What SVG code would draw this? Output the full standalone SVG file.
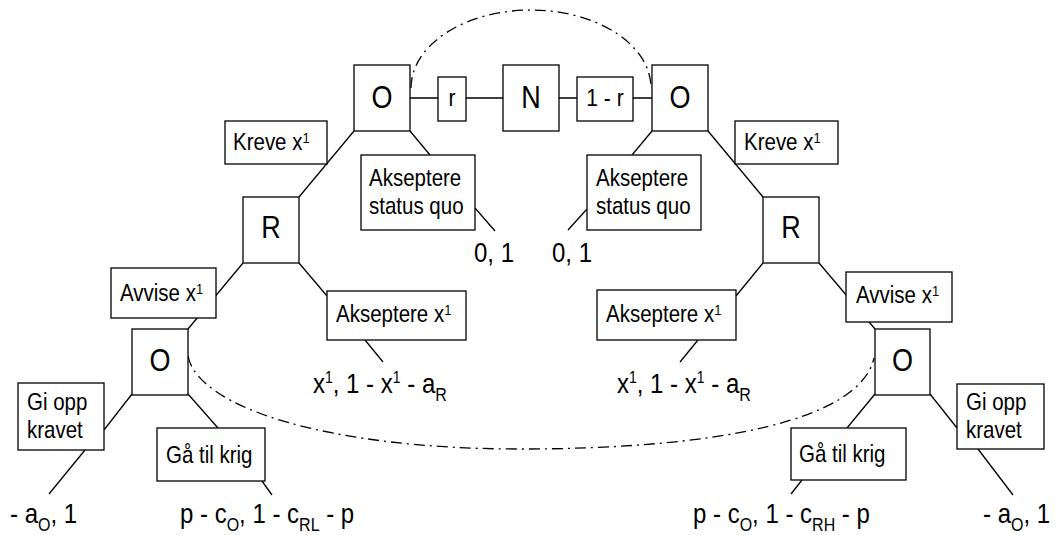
<svg xmlns="http://www.w3.org/2000/svg" width="1056" height="535" viewBox="0 0 1056 535">
<style>
.box{fill:#fff;stroke:#000;stroke-width:1.3}
.ln{stroke:#000;stroke-width:1.3;fill:none}
.dd{stroke:#000;stroke-width:1.3;fill:none;stroke-dasharray:11 5 2 5}
text{font-family:"Liberation Sans",Arial,sans-serif;fill:#000}
.lb{font-size:20.5px}
.big{font-size:27px;text-anchor:middle}
.sm{font-size:21px;text-anchor:middle}
.pf{font-size:24px}
.sup{font-size:13px}
.psup{font-size:14px}
.sub{font-size:16px}
</style>
<rect width="1056" height="535" fill="#fff"/>
<g id="connectors">
<path class="ln" d="M410 98H652"/>
<path class="ln" d="M354 131L299 197M410 131L430 155M652 131L632 155M708 131L763 197"/>
<path class="ln" d="M475 208L495 231M587 209L568 230"/>
<path class="ln" d="M243 263L188 329M299 263L327 296M763 263L736 296M819 263L875 329"/>
<path class="ln" d="M365 340L383 362M698 340L680 362"/>
<path class="ln" d="M132 394L104 430M188 394L218 428M875 394L847 428M930 394L957 428"/>
<path class="ln" d="M85 450L49 494M262 481L272 495M802 480L791 494M978 449L1013 495"/>
<path class="dd" d="M411 88A120 78 0 0 1 651 88"/>
<path class="dd" d="M188 356C198 408 330 449 520 449C720 449 860 420 874 358"/>
</g>
<g id="O1"><rect class="box" x="354" y="65" width="56" height="66"/><text class="big" transform="matrix(1 0 0 1.18 382 107.5)">O</text></g>
<g id="r"><rect class="box" x="438" y="77" width="28" height="44"/><text class="sm" transform="matrix(1 0 0 1.18 452 106)">r</text></g>
<g id="N"><rect class="box" x="503" y="65" width="56" height="66"/><text class="big" transform="matrix(1 0 0 1.18 531 107.5)">N</text></g>
<g id="one-minus-r"><rect class="box" x="577" y="77" width="56" height="44"/><text class="sm" transform="matrix(1 0 0 1.18 605 106)">1 - r</text></g>
<g id="O2"><rect class="box" x="652" y="65" width="56" height="66"/><text class="big" transform="matrix(1 0 0 1.18 680 107.5)">O</text></g>
<g id="kreve-left"><rect class="box" x="225" y="121" width="102" height="43"/><text class="lb" transform="matrix(1 0 0 1.18 233 150)">Kreve x<tspan class="sup" dy="-6">1</tspan></text></g>
<g id="kreve-right"><rect class="box" x="735" y="121" width="103" height="43"/><text class="lb" transform="matrix(1 0 0 1.18 744 150)">Kreve x<tspan class="sup" dy="-6">1</tspan></text></g>
<g id="sq-left"><rect class="box" x="361" y="155" width="114" height="75"/><text class="lb" transform="matrix(1 0 0 1.18 369 186)">Akseptere</text><text class="lb" transform="matrix(1 0 0 1.18 369 214)">status quo</text></g>
<g id="sq-right"><rect class="box" x="587" y="155" width="114" height="75"/><text class="lb" transform="matrix(1 0 0 1.18 596 186)">Akseptere</text><text class="lb" transform="matrix(1 0 0 1.18 596 214)">status quo</text></g>
<g id="R1"><rect class="box" x="243" y="197" width="56" height="66"/><text class="big" transform="matrix(1 0 0 1.18 271 238)">R</text></g>
<g id="R2"><rect class="box" x="763" y="197" width="56" height="66"/><text class="big" transform="matrix(1 0 0 1.18 791 238)">R</text></g>
<g id="avvise-left"><rect class="box" x="111" y="268" width="105" height="50"/><text class="lb" transform="matrix(1 0 0 1.18 120 301)">Avvise x<tspan class="sup" dy="-6">1</tspan></text></g>
<g id="akseptere-left"><rect class="box" x="327" y="291" width="139" height="49"/><text class="lb" transform="matrix(1 0 0 1.18 336 322)">Akseptere x<tspan class="sup" dy="-6">1</tspan></text></g>
<g id="akseptere-right"><rect class="box" x="597" y="290" width="139" height="50"/><text class="lb" transform="matrix(1 0 0 1.18 606 322)">Akseptere x<tspan class="sup" dy="-6">1</tspan></text></g>
<g id="avvise-right"><rect class="box" x="846" y="272" width="106" height="50"/><text class="lb" transform="matrix(1 0 0 1.18 856 303)">Avvise x<tspan class="sup" dy="-6">1</tspan></text></g>
<g id="O3"><rect class="box" x="132" y="329" width="56" height="66"/><text class="big" transform="matrix(1 0 0 1.18 160 371)">O</text></g>
<g id="O4"><rect class="box" x="875" y="329" width="55" height="66"/><text class="big" transform="matrix(1 0 0 1.18 902.5 371)">O</text></g>
<g id="giopp-left"><rect class="box" x="18" y="383" width="86" height="67"/><text class="lb" transform="matrix(1 0 0 1.18 27 410)">Gi opp</text><text class="lb" transform="matrix(1 0 0 1.18 27 438)">kravet</text></g>
<g id="krig-left"><rect class="box" x="157" y="428" width="108" height="53"/><text class="lb" transform="matrix(1 0 0 1.18 166 463)">Gå til krig</text></g>
<g id="krig-right"><rect class="box" x="791" y="428" width="115" height="52"/><text class="lb" transform="matrix(1 0 0 1.18 799 462)">Gå til krig</text></g>
<g id="giopp-right"><rect class="box" x="957" y="384" width="87" height="65"/><text class="lb" transform="matrix(1 0 0 1.18 966 410)">Gi opp</text><text class="lb" transform="matrix(1 0 0 1.18 966 438)">kravet</text></g>
<g id="payoffs">
<text class="pf" transform="matrix(1 0 0 1.18 474 262)">0, 1</text>
<text class="pf" transform="matrix(1 0 0 1.18 552 262)">0, 1</text>
<text class="pf" transform="matrix(1 0 0 1.18 313 393)">x<tspan class="psup" dy="-8.5">1</tspan><tspan dy="8.5">, 1 - x</tspan><tspan class="psup" dy="-8.5">1</tspan><tspan dy="8.5"> - a</tspan><tspan class="sub" dy="7">R</tspan></text>
<text class="pf" transform="matrix(1 0 0 1.18 617 393)">x<tspan class="psup" dy="-8.5">1</tspan><tspan dy="8.5">, 1 - x</tspan><tspan class="psup" dy="-8.5">1</tspan><tspan dy="8.5"> - a</tspan><tspan class="sub" dy="7">R</tspan></text>
<text class="pf" transform="matrix(1 0 0 1.18 10 523)">- a<tspan class="sub" dy="7">O</tspan><tspan dy="-7">, 1</tspan></text>
<text class="pf" transform="matrix(1 0 0 1.18 180 523)">p - c<tspan class="sub" dy="7">O</tspan><tspan dy="-7">, 1 - c</tspan><tspan class="sub" dy="7">RL</tspan><tspan dy="-7"> - p</tspan></text>
<text class="pf" transform="matrix(1 0 0 1.18 693 523)">p - c<tspan class="sub" dy="7">O</tspan><tspan dy="-7">, 1 - c</tspan><tspan class="sub" dy="7">RH</tspan><tspan dy="-7"> - p</tspan></text>
<text class="pf" transform="matrix(1 0 0 1.18 983 523)">- a<tspan class="sub" dy="7">O</tspan><tspan dy="-7">, 1</tspan></text>
</g>
</svg>
